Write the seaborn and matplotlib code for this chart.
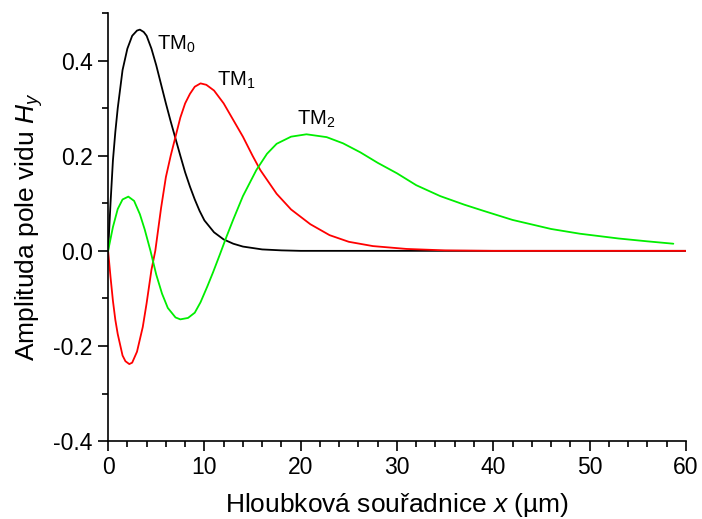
import numpy as np
import pandas as pd
import matplotlib
matplotlib.use('Agg')
import matplotlib.pyplot as plt
import seaborn as sns
from matplotlib.ticker import MultipleLocator

# mode profiles (depth in um, amplitude of H_y)
tm0_x = [0, 0.25, 0.5, 0.75, 1, 1.5, 2, 2.5, 3, 3.3, 3.7, 4, 4.5, 5, 5.5, 6,
         6.5, 7, 7.5, 8, 8.5, 9, 9.5, 10, 11, 12, 13, 14, 16, 18, 20, 30, 40,
         50, 60]
tm0_y = [0, 0.1, 0.19, 0.25, 0.30, 0.38, 0.425, 0.452, 0.463, 0.465, 0.46,
         0.452, 0.425, 0.39, 0.35, 0.31, 0.272, 0.236, 0.2, 0.165, 0.135,
         0.108, 0.084, 0.064, 0.039, 0.024, 0.015, 0.009, 0.003, 0.001, 0, 0,
         0, 0, 0]

tm1_x = [0, 0.25, 0.5, 0.75, 1, 1.5, 1.8, 2.2, 2.5, 3, 3.6, 4, 4.5, 4.9, 5.5,
         6, 6.5, 7, 7.5, 8, 8.5, 9, 9.6, 10.2, 11, 12, 13, 14, 15, 15.8, 17.5,
         19, 21, 23, 25, 27.5, 31, 35, 40, 50, 60]
tm1_y = [0, -0.055, -0.105, -0.145, -0.175, -0.22, -0.232, -0.238, -0.235,
         -0.212, -0.16, -0.11, -0.04, 0, 0.09, 0.155, 0.2, 0.24, 0.28, 0.31,
         0.33, 0.345, 0.352, 0.349, 0.337, 0.31, 0.275, 0.24, 0.2, 0.17, 0.12,
         0.087, 0.056, 0.033, 0.019, 0.01, 0.004, 0.001, 0, 0, 0]

tm2_x = [0, 0.5, 1, 1.5, 2.1, 2.7, 3.3, 3.8, 4.4, 5, 5.6, 6.2, 7, 7.5, 8.3, 9,
         9.6, 10.3, 10.9, 11.6, 12.3, 13, 14, 15.4, 16.5, 17.5, 19, 20.6,
         22.7, 24.4, 26.2, 28, 30, 32, 34.5, 37, 39, 42, 46, 49, 53, 56, 58.7]
tm2_y = [0, 0.05, 0.088, 0.108, 0.114, 0.105, 0.077, 0.045, 0, -0.05, -0.09,
         -0.12, -0.14, -0.144, -0.141, -0.13, -0.108, -0.075, -0.045, -0.008,
         0.03, 0.066, 0.115, 0.17, 0.204, 0.225, 0.24, 0.245, 0.239, 0.226,
         0.207, 0.185, 0.163, 0.138, 0.115, 0.097, 0.084, 0.065, 0.046, 0.036,
         0.026, 0.02, 0.015]

mode_names = ['TM$_0$', 'TM$_1$', 'TM$_2$']
mode_colors = ['black', '#ff0000', '#00ee00']

sns.set_theme(style='ticks')
plt.rcParams['font.family'] = ['Liberation Sans', 'DejaVu Sans']
plt.rcParams['mathtext.fontset'] = 'custom'
plt.rcParams['mathtext.rm'] = 'Liberation Sans'
plt.rcParams['mathtext.it'] = 'Liberation Sans:italic'

fig = plt.figure(figsize=(7.02, 5.19), dpi=100)
ax = fig.add_axes([0.154, 0.150, 0.823, 0.825])

curves = [(tm0_x, tm0_y), (tm1_x, tm1_y), (tm2_x, tm2_y)]
for (xs, ys), color in zip(curves, mode_colors):
    df = pd.DataFrame({'x': xs, 'y': ys})
    sns.lineplot(data=df, x='x', y='y', color=color, lw=1.3, sort=False,
                 estimator=None, ax=ax)

# mode labels
label_pos = [(5.1, 0.422), (11.3, 0.348), (19.6, 0.266)]
for name, (lx, ly) in zip(mode_names, label_pos):
    ax.text(lx, ly, name, fontsize=14.5, ha='left', va='baseline',
            color='black')

ax.set_xlim(0, 60)
ax.set_ylim(-0.4, 0.5)
ax.xaxis.set_major_locator(MultipleLocator(10))
ax.xaxis.set_minor_locator(MultipleLocator(2))
ax.yaxis.set_minor_locator(MultipleLocator(0.1))
ax.set_yticks([-0.4, -0.2, 0.0, 0.2, 0.4])
ax.set_yticklabels(['-0.4', '-0.2', '0.0', '0.2', '0.4'])

ax.tick_params(which='major', direction='out', length=7, width=1.2,
               labelsize=16.5, color='black', labelcolor='black', pad=4)
ax.tick_params(which='minor', direction='out', length=4, width=1.2,
               color='black')
for side in ['left', 'bottom']:
    ax.spines[side].set_linewidth(1.2)
    ax.spines[side].set_color('black')
sns.despine(ax=ax)

ax.set_xlabel('Hloubková souřadnice $\\mathit{x}$ (µm)', fontsize=19,
              color='black', labelpad=8)
ax.set_ylabel('Amplituda pole vidu $\\mathit{H}_{\\mathit{y}}$', fontsize=19,
              color='black', labelpad=6)

fig.savefig('out.png', dpi=100)
plt.close(fig)
